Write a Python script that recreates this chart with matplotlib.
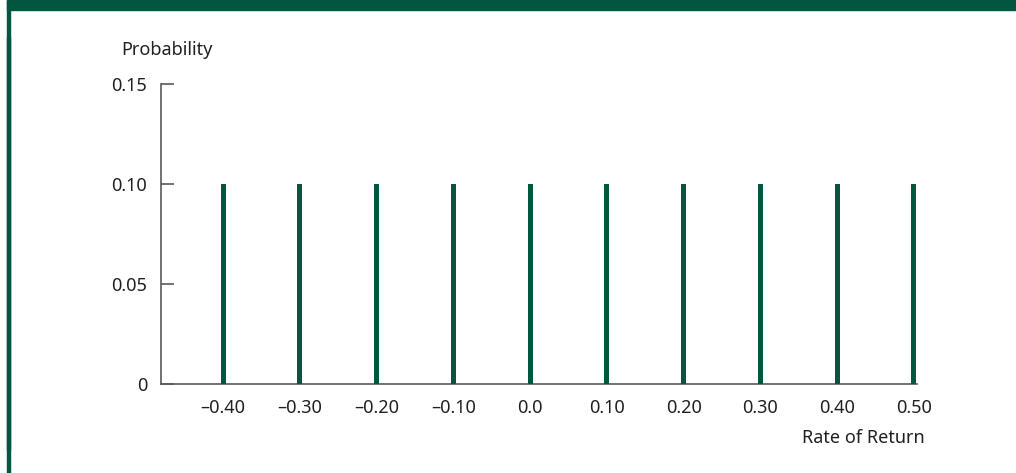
import matplotlib
matplotlib.use("Agg")
import matplotlib.pyplot as plt
from matplotlib.patches import Rectangle

# ── Data ──────────────────────────────────────────────────────────────────────
returns = [-0.40, -0.30, -0.20, -0.10, 0.0, 0.10, 0.20, 0.30, 0.40, 0.50]
probs   = [0.10] * 10
x_labels = ["\u20130.40", "\u20130.30", "\u20130.20", "\u20130.10", "0.0",
            "0.10", "0.20", "0.30", "0.40", "0.50"]
y_ticks  = [0, 0.05, 0.10, 0.15]
y_labels = ["0", "0.05", "0.10", "0.15"]

GREEN = "#00563f"
TEXT  = "#231f20"
AXIS  = "#5a5a5a"
FS    = 13

W, H = 1016, 473
plt.rcParams["font.family"] = ["Noto Sans", "DejaVu Sans"]

fig = plt.figure(figsize=(W / 100, H / 100), dpi=100)
fig.patch.set_facecolor("white")

# frame decorations: top band + left rule
fig.patches.append(Rectangle((7 / W, 1 - 10.5 / H), 1, 10.5 / H,
                             transform=fig.transFigure, color=GREEN, zorder=0))
fig.patches.append(Rectangle((7 / W, 0), 2.6 / W, 1,
                             transform=fig.transFigure, color=GREEN, zorder=0))
fig.patches.append(Rectangle((7 / W, 1 - 450 / H), 3.2 / W, (450 - 37) / H,
                             transform=fig.transFigure, color=GREEN, zorder=0))

# axes placed in pixel terms
left, right, bottom, top = 161, 917, 384, 84
ax = fig.add_axes([left / W, 1 - bottom / H, (right - left) / W, (bottom - top) / H])
ax.set_facecolor("none")

ax.bar(returns, probs, width=0.0066, color=GREEN, zorder=3)

ax.set_xlim(-0.481, 0.504)
ax.set_ylim(0, 0.15)

ax.set_xticks(returns)
ax.set_xticklabels(x_labels)
ax.set_yticks(y_ticks)
ax.set_yticklabels(y_labels)

ax.spines[["top", "right"]].set_visible(False)
for s in ("left", "bottom"):
    ax.spines[s].set_color(AXIS)
    ax.spines[s].set_linewidth(1.2)

ax.tick_params(axis="x", length=0, pad=11, labelsize=FS, labelcolor=TEXT)
ax.tick_params(axis="y", direction="in", length=9, width=1.2, color=AXIS,
               pad=10, labelsize=FS, labelcolor=TEXT)

fig.text(167 / W, 1 - 50 / H, "Probability", ha="center", va="center",
         fontsize=FS, color=TEXT)
fig.text(925 / W, 1 - 438 / H, "Rate of Return", ha="right", va="center",
         fontsize=FS, color=TEXT)

fig.savefig("out.png", dpi=100, facecolor="white")
